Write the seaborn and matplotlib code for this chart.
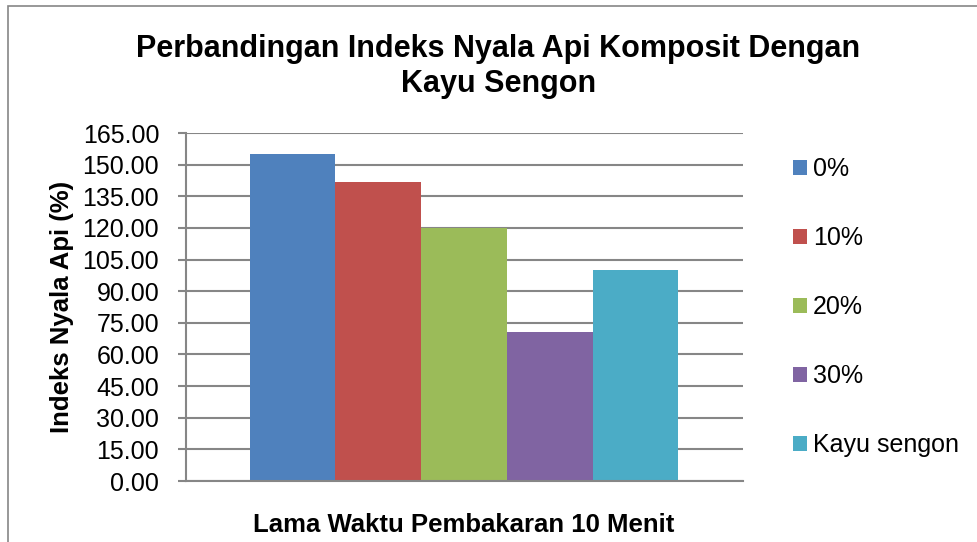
import pandas as pd
import matplotlib
matplotlib.use("Agg")
import matplotlib.pyplot as plt
import seaborn as sns
from matplotlib.patches import Rectangle

# data
komposisi = ['0%', '10%', '20%', '30%', 'Kayu sengon']
indeks = [155.0, 141.8, 120.0, 70.7, 100.0]
warna = ['#4F81BD', '#C0504D', '#9BBB59', '#8064A2', '#4BACC6']
y_ticks = [0, 15, 30, 45, 60, 75, 90, 105, 120, 135, 150, 165]

sns.set_style('white')
plt.rcParams['font.family'] = ['Liberation Sans', 'DejaVu Sans']
plt.rcParams['text.color'] = 'black'
plt.rcParams['axes.labelcolor'] = 'black'
plt.rcParams['ytick.labelcolor'] = 'black'

df = pd.DataFrame({
    'waktu': ['10 Menit'] * len(komposisi),
    'komposisi': komposisi,
    'indeks': indeks,
})

fig = plt.figure(figsize=(9.77, 5.42), dpi=100)
ax = fig.add_axes([0.190, 0.1125, 0.570, 0.642])

sns.barplot(
    data=df,
    x='waktu',
    y='indeks',
    hue='komposisi',
    hue_order=komposisi,
    palette=warna,
    width=0.77,
    saturation=1,
    linewidth=0,
    edgecolor='none',
    ax=ax
)

ax.set_xlim(-0.5, 0.5)
ax.set_ylim(0, 165)
ax.set_yticks(y_ticks)
ax.set_yticklabels([f'{v:.2f}' for v in y_ticks], fontsize=18, color='black')
ax.set_xticks([])

ax.yaxis.grid(True, color='#868686', linewidth=1.5)
ax.set_axisbelow(True)
for s in ['top', 'right']:
    ax.spines[s].set_visible(False)
for s in ['left', 'bottom']:
    ax.spines[s].set_color('#868686')
    ax.spines[s].set_linewidth(1.5)
ax.tick_params(axis='y', left=True, length=6, width=1.5, color='#868686', pad=13)

ax.set_xlabel('Lama Waktu Pembakaran 10 Menit', fontsize=18.5, fontweight='bold',
              labelpad=23, color='black')
ax.set_ylabel('Indeks Nyala Api (%)', fontsize=18.5, fontweight='bold', color='black')
ax.yaxis.set_label_coords(-0.200, 0.5)

handles, labels = ax.get_legend_handles_labels()
leg = ax.legend(
    handles, labels,
    loc='upper left',
    bbox_to_anchor=(793 / 977, 1 - 157 / 542),
    bbox_transform=fig.transFigure,
    frameon=False,
    fontsize=18,
    handlelength=0.55,
    handleheight=0.55,
    handletextpad=0.25,
    labelspacing=1.8,
    borderpad=0,
    borderaxespad=0,
)
for t in leg.get_texts():
    t.set_color('black')

fig.text(
    0.51, 1 - 66.5 / 542,
    'Perbandingan Indeks Nyala Api Komposit Dengan\nKayu Sengon',
    ha='center', va='center', fontsize=22, fontweight='bold', linespacing=1.2,
    color='black'
)

# chart area border
fig.patches.append(Rectangle(
    (8 / 977, -0.1), 1.2, 1 - 6 / 542 + 0.1,
    transform=fig.transFigure, fill=False, edgecolor='#868686', linewidth=1.2
))

fig.savefig('out.png', dpi=100)
